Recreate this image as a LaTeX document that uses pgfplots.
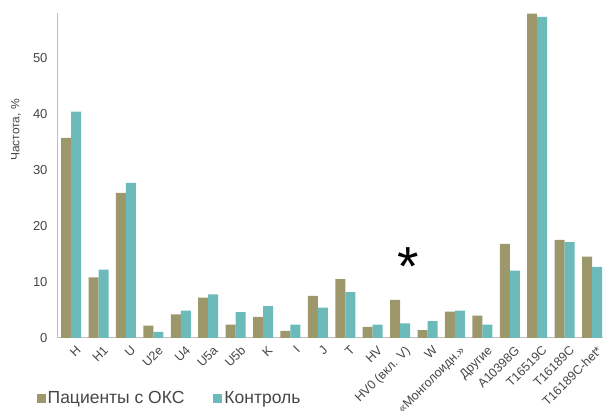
\documentclass[border=0pt]{standalone}
\usepackage{pgfplots}
\pgfplotsset{compat=1.18}
\usepackage{fontspec}
\setmainfont{Liberation Sans}
\usetikzlibrary{calc}
\definecolor{olivebar}{RGB}{156,152,108}
\definecolor{tealbar}{RGB}{108,186,186}
\definecolor{axgray}{RGB}{190,190,190}
\definecolor{txtgray}{RGB}{70,70,70}
\begin{document}
\begin{tikzpicture}
\begin{axis}[
  scale only axis,
  width=545pt, height=325pt,
  ybar=0pt, bar width=10pt,
  xmin=-0.48, xmax=19.4,
  ymin=0, ymax=58,
  xtick=data,
  xticklabels={H,H1,U,U2e,U4,U5a,U5b,K,I,J,T,HV,HV0 (вкл. V),W,«Монголоидн.»,Другие,A10398G,T16519C,T16189C,T16189C-het*},
  x tick label style={rotate=45, anchor=north east, font=\fontsize{12.5}{12.5}\selectfont, text=txtgray, inner sep=1pt, xshift=-1pt, yshift=-7pt},
  ytick={0,10,20,30,40,50},
  y tick label style={font=\fontsize{13}{13}\selectfont, text=txtgray, xshift=-7pt},
  /pgf/number format/assume math mode=true,
  major tick length=0pt,
  axis x line=bottom, axis y line=left,
  axis line style={draw=axgray, line width=1pt, -},
  ylabel={Частота, \%},
  ylabel style={at={(axis description cs:-0.077,0.64)}, anchor=center, font=\fontsize{12}{12}\selectfont, text=txtgray},
  legend columns=2,
  legend style={at={(-0.045,-0.185)}, anchor=west, draw=none, fill=none,
    font=\fontsize{17.5}{17.5}\selectfont, text=txtgray,
    /tikz/every even column/.append style={column sep=27pt}},
  legend image code/.code={\fill[#1] (0pt,-4.5pt) rectangle (9pt,4.5pt);},
]
\addplot[fill=olivebar, draw=none] coordinates {
(0,35.7) (1,10.8) (2,25.9) (3,2.2) (4,4.2) (5,7.2) (6,2.4) (7,3.75) (8,1.25) (9,7.5)
(10,10.5) (11,2.0) (12,6.8) (13,1.4) (14,4.7) (15,4.0) (16,16.8) (17,57.9) (18,17.5) (19,14.5)};
\addplot[fill=tealbar, draw=none] coordinates {
(0,40.4) (1,12.2) (2,27.7) (3,1.1) (4,4.9) (5,7.8) (6,4.6) (7,5.7) (8,2.4) (9,5.4)
(10,8.2) (11,2.4) (12,2.6) (13,3.0) (14,4.9) (15,2.4) (16,12.0) (17,57.3) (18,17.1) (19,12.7)};
\legend{Пациенты с ОКС, Контроль}
\node[font=\fontsize{55}{55}\selectfont, inner sep=0pt] at (axis cs:12.3,12.8) {*};
\end{axis}
\pgfresetboundingbox
\path ($(current axis.south west)+(-58pt,-74pt)$) rectangle ($(current axis.north east)+(0pt,13pt)$);
\end{tikzpicture}
\end{document}
